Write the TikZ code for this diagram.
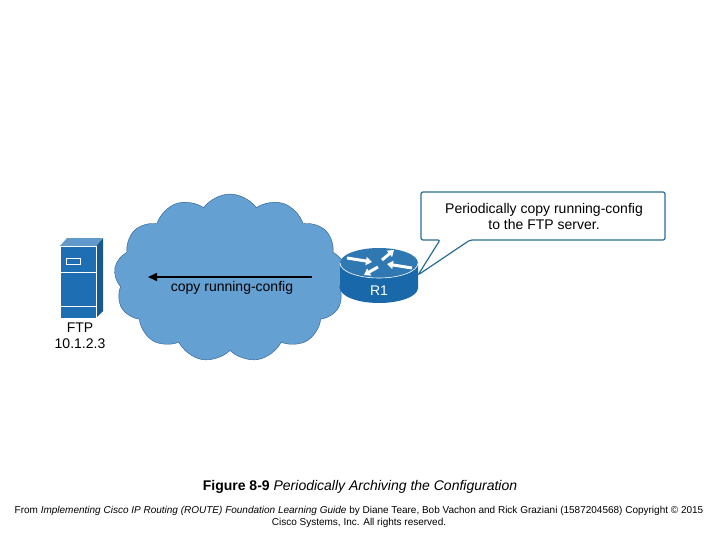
\documentclass[tikz,border=0pt]{standalone}
\usepackage{fontspec}
\setmainfont{Liberation Sans}
\usetikzlibrary{shapes.symbols,arrows.meta}
\definecolor{cblue}{RGB}{100,160,210}
\definecolor{cedge}{RGB}{40,90,150}
\definecolor{sblue}{RGB}{30,110,180}
\definecolor{rblue}{RGB}{25,105,170}
\definecolor{calbd}{RGB}{40,110,150}
\tikzset{lbl/.style={font=\fontsize{14}{16}\selectfont,inner sep=0pt},
rarr/.style={white,line width=3pt,-{Triangle[length=6pt,width=8pt]}}}
\begin{document}
\begin{tikzpicture}[x=1pt,y=-1pt]
\useasboundingbox (0,0) rectangle (720,540);
% cloud
\node[cloud,cloud puffs=13,cloud puff arc=110,aspect=1.4,draw=cedge,fill=cblue,minimum width=232pt,minimum height=168pt,inner sep=0pt] (cloud) at (230,278) {};
% server
\fill[sblue!80!black] (96,246) -- (103,238) -- (103,311) -- (96,318) -- cycle;
\fill[sblue!70!white] (60,246) -- (67,238) -- (103,238) -- (96,246) -- cycle;
\node[draw=white,fill=sblue,minimum width=36pt,minimum height=72pt,inner sep=0pt,line width=0.4pt] (srv) at (78,282) {};
\draw[white] (66,258) rectangle (80,264);
\draw[white] (60,272) -- (96,272) (60,306) -- (96,306);
\node[lbl,align=center] (ftp) at (80,336) {FTP\\10.1.2.3};
% router
\fill[rblue] (340,263) -- (340,288) arc[start angle=180,end angle=0,x radius=39,y radius=15] -- (418,263) -- cycle;
\fill[rblue!90!white] (379,263) ellipse[x radius=39,y radius=15];
\draw[white,line width=0.6pt] (340,263) arc[start angle=180,end angle=0,x radius=39,y radius=15];
\draw[rarr] (347,258) -- (372,262);
\draw[rarr] (412,268) -- (387,264);
\draw[rarr] (378,267) -- (364,275);
\draw[rarr] (382,260) -- (394,250);
\node[lbl,white] (r1) at (379,291) {R1};
% arrow
\coordinate (astart) at (312,277);
\coordinate (aend) at (148,277);
\draw[line width=1.5pt,-{Triangle[length=9pt,width=8pt]}] (astart) -- (aend);
\node[lbl] (cp) at (232,288) {copy running-config};
% callout
\draw[calbd,line width=1.2pt,fill=white,rounded corners=2pt] (421,192) -- (665,192) -- (665,240) -- (470,240) -- (418,275) -- (440,240) -- (421,240) -- cycle;
\node[lbl,align=center] (call) at (544,216) {Periodically copy running-config\\to the FTP server.};
% caption
\node[font=\fontsize{14}{16}\selectfont,inner sep=0pt] (cap) at (360,487) {\textbf{Figure 8-9} \textit{Periodically Archiving the Configuration}};
\node[font=\fontsize{10}{12}\selectfont,inner sep=0pt,align=center] (foot) at (359,517) {From \textit{Implementing Cisco IP Routing (ROUTE) Foundation Learning Guide} by Diane Teare, Bob Vachon and Rick Graziani (1587204568) Copyright © 2015\\Cisco Systems, Inc. All rights reserved.};
\end{tikzpicture}
\end{document}
